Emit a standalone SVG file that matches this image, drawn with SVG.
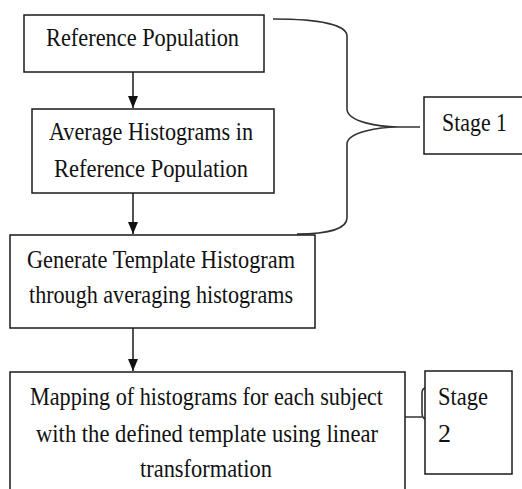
<svg xmlns="http://www.w3.org/2000/svg" width="522" height="489" viewBox="0 0 522 489">
<style>
.box{fill:#fff;stroke:#1a1a1a;stroke-width:1.5}
.ln{fill:none;stroke:#1a1a1a;stroke-width:1.5}
.br{fill:none;stroke:#333;stroke-width:1.6}
text{font-family:"Liberation Serif","Times New Roman",serif;font-size:26px;fill:#111}
</style>
<defs>
<marker id="ah" markerWidth="12" markerHeight="10" refX="12" refY="5" orient="auto" markerUnits="userSpaceOnUse" viewBox="0 0 12 10">
<path d="M0,0 L12,5 L0,10 Z" fill="#111"/>
</marker>
</defs>
<g id="connectors">
<line class="ln" x1="133" y1="72" x2="133" y2="108" marker-end="url(#ah)"/>
<line class="ln" x1="133" y1="193" x2="133" y2="234" marker-end="url(#ah)"/>
<line class="ln" x1="133" y1="328" x2="133" y2="371" marker-end="url(#ah)"/>
<path class="br" d="M273,19 C320,19 347,25 347,36 L347,109 C347,122 380,127 398,127 L420,127 M398,127 C380,127 347,132 347,144 L347,218 C347,228 330,234 297,234"/>
<path class="br" d="M405,417 L422,417 M425,388 C422,389 422,391 422,393 L422,413 C422,416 423,418 425,419"/>
</g>
<g id="n1">
<rect class="box" x="24" y="15" width="240" height="57"/>
<text x="46" y="46" textLength="193" lengthAdjust="spacingAndGlyphs">Reference Population</text>
</g>
<g id="n2">
<rect class="box" x="32" y="109" width="242" height="84"/>
<text x="49" y="140" textLength="204" lengthAdjust="spacingAndGlyphs">Average Histograms in</text>
<text x="54" y="177" textLength="194" lengthAdjust="spacingAndGlyphs">Reference Population</text>
</g>
<g id="n3">
<rect class="box" x="10" y="235" width="305" height="93"/>
<text x="27" y="268" textLength="268" lengthAdjust="spacingAndGlyphs">Generate Template Histogram</text>
<text x="29" y="303" textLength="264" lengthAdjust="spacingAndGlyphs">through averaging histograms</text>
</g>
<g id="n4">
<path class="box" d="M10,495 L10,372 L405,372 L405,495"/>
<text x="30" y="405" textLength="353" lengthAdjust="spacingAndGlyphs">Mapping of histograms for each subject</text>
<text x="36" y="442" textLength="342" lengthAdjust="spacingAndGlyphs">with the defined template using linear</text>
<text x="140" y="477" textLength="132" lengthAdjust="spacingAndGlyphs">transformation</text>
</g>
<g id="stage1">
<rect class="box" x="424" y="97" width="100" height="57"/>
<text x="442" y="131" textLength="65" lengthAdjust="spacingAndGlyphs">Stage 1</text>
</g>
<g id="stage2">
<rect class="box" x="425" y="371" width="87" height="103"/>
<text x="438" y="405" textLength="50" lengthAdjust="spacingAndGlyphs">Stage</text>
<text x="438" y="442">2</text>
</g>
</svg>
